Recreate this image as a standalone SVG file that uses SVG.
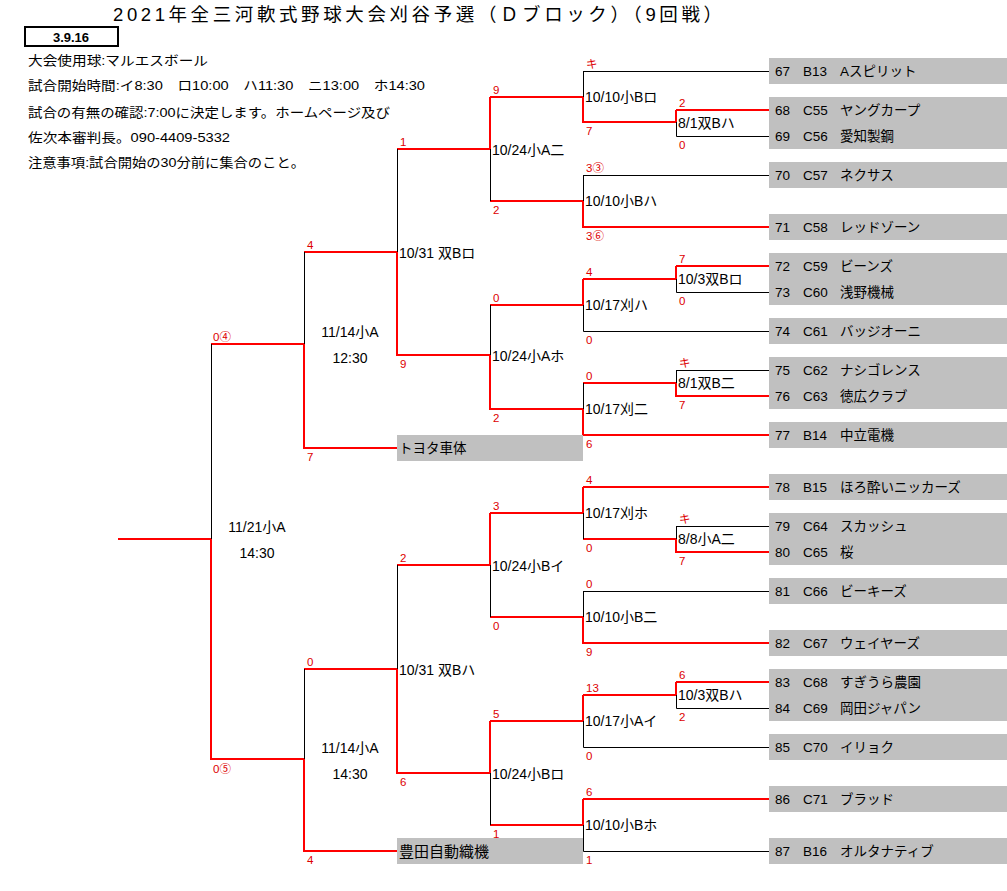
<svg xmlns="http://www.w3.org/2000/svg" width="1007" height="891" viewBox="0 0 1007 891">
<style>
text{font-family:"Liberation Sans","Noto Sans CJK JP",sans-serif;fill:#000}
.t{font-size:13.5px}
.m{font-size:14px}
.s{font-size:11.5px;fill:#dd0000}
.box{fill:#c0c0c0}
.r{stroke:#ff0000;stroke-width:2;fill:none}
.k{stroke:#000;stroke-width:1;fill:none}
.info{font-size:13px}
</style>
<rect width="1007" height="891" fill="#fff"/>
<g id="header">
<text x="113" y="21" style="font-size:18.5px" textLength="609" lengthAdjust="spacing">2021年全三河軟式野球大会刈谷予選（Ｄブロック）（9回戦）</text>
<rect x="25" y="27" width="93" height="19" fill="none" stroke="#000" stroke-width="2"/>
<text x="71" y="42" text-anchor="middle" style="font-size:13px;font-weight:bold">3.9.16</text>
<text class="info" x="28" y="65" textLength="180" lengthAdjust="spacingAndGlyphs">大会使用球:マルエスボール</text>
<text class="info" x="28" y="90" textLength="397" lengthAdjust="spacingAndGlyphs">試合開始時間:イ8:30　ロ10:00　ハ11:30　ニ13:00　ホ14:30</text>
<text class="info" x="28" y="117" textLength="362" lengthAdjust="spacingAndGlyphs">試合の有無の確認:7:00に決定します。ホームページ及び</text>
<text class="info" x="28" y="142" textLength="202" lengthAdjust="spacingAndGlyphs">佐次本審判長。090-4409-5332</text>
<text class="info" x="28" y="167" textLength="277" lengthAdjust="spacingAndGlyphs">注意事項:試合開始の30分前に集合のこと。</text>
</g>
<g id="connectors">
<path class="r" d="M118,539H211V759H304M211,344H304M304,344V448H397M304,252H397M304,759V851H397M304,669H397"/>
<path class="k" d="M211.5,344V539M304.5,252V344M304.5,669V759"/>
<path class="r" d="M397,252V355H490M397,149H490M397,669V773H490M397,565H490"/>
<path class="k" d="M397.5,149V252M397.5,565V669"/>
<path class="r" d="M490,97V149M490,97H583M490,201H583M490,355V409H583M490,305H583M490,513V565M490,513H583M490,617H583M490,721V773M490,721H583M490,825H583"/>
<path class="k" d="M490.5,149V201M490.5,305V355M490.5,565V617M490.5,773V825"/>
<path class="r" d="M583,97V122H676M676,110V122M676,110H769M583,201V227H769M583,279V305M583,279H676M676,266V279M676,266H769M583,409V435H769M583,383H676M676,383V396H769M583,487V513M583,487H769M583,539H676M676,539V552H769M583,617V643H769M583,695V721M583,695H676M676,682V695M676,682H769M583,799V825M583,799H769"/>
<path class="k" d="M583.5,71.5V97M583,71.5H769M676.5,122V136.5H769M583.5,175.5V201M583,175.5H769M583.5,305V331.5H769M676.5,279V292.5H769M583.5,383V409M676.5,370.5V383M676,370.5H769M583.5,513V539M676.5,526.5V539M676,526.5H769M583.5,591.5V617M583,591.5H769M583.5,721V747.5H769M676.5,695V708.5H769M583.5,825V851.5H769"/>
</g>
<g id="final">
<text class="m" x="257" y="532" text-anchor="middle">11/21小A</text>
<text class="m" x="257" y="558" text-anchor="middle">14:30</text>
<text class="s" x="213" y="341">0④</text>
<text class="s" x="213" y="773">0⑤</text>
</g>
<g id="semi-1">
<text class="m" x="350" y="337" text-anchor="middle">11/14小A</text>
<text class="m" x="350" y="363" text-anchor="middle">12:30</text>
<text class="s" x="307" y="249">4</text>
<text class="s" x="307" y="461">7</text>
</g>
<g id="semi-2">
<text class="m" x="350" y="753" text-anchor="middle">11/14小A</text>
<text class="m" x="350" y="779" text-anchor="middle">14:30</text>
<text class="s" x="307" y="666">0</text>
<text class="s" x="307" y="864">4</text>
</g>
<g id="qf-1">
<text class="m" x="399" y="258">10/31 双Bロ</text>
<text class="s" x="400" y="146">1</text>
<text class="s" x="400" y="368">9</text>
</g>
<g id="qf-2">
<text class="m" x="399" y="675">10/31 双Bハ</text>
<text class="s" x="400" y="562">2</text>
<text class="s" x="400" y="786">6</text>
</g>
<g id="team-toyota-shatai">
<rect class="box" x="397" y="435" width="186" height="26"/>
<text class="t" x="399" y="453">トヨタ車体</text>
</g>
<g id="team-toyoda-shokki">
<rect class="box" x="397" y="838" width="186" height="26"/>
<text x="399" y="857" style="font-size:15px">豊田自動織機</text>
</g>
<g id="r2-1">
<text class="m" x="492" y="155">10/24小A二</text>
<text class="s" x="493" y="94">9</text>
<text class="s" x="493" y="214">2</text>
</g>
<g id="r2-2">
<text class="m" x="492" y="361">10/24小Aホ</text>
<text class="s" x="493" y="302">0</text>
<text class="s" x="493" y="422">2</text>
</g>
<g id="r2-3">
<text class="m" x="492" y="571">10/24小Bイ</text>
<text class="s" x="493" y="510">3</text>
<text class="s" x="493" y="630">0</text>
</g>
<g id="r2-4">
<text class="m" x="492" y="779">10/24小Bロ</text>
<text class="s" x="493" y="718">5</text>
<text class="s" x="493" y="838">1</text>
</g>
<g id="r1-1">
<text class="m" x="585" y="102">10/10小Bロ</text>
<text class="s" x="586" y="68">キ</text>
<text class="s" x="586" y="135">7</text>
</g>
<g id="r0-1">
<text class="m" x="678" y="128">8/1双Bハ</text>
<text class="s" x="679" y="107">2</text>
<text class="s" x="679" y="149">0</text>
</g>
<g id="r1-2">
<text class="m" x="585" y="206">10/10小Bハ</text>
<text class="s" x="586" y="172">3③</text>
<text class="s" x="586" y="240">3⑥</text>
</g>
<g id="r1-3">
<text class="m" x="585" y="310">10/17刈ハ</text>
<text class="s" x="586" y="276">4</text>
<text class="s" x="586" y="344">0</text>
</g>
<g id="r0-2">
<text class="m" x="678" y="284">10/3双Bロ</text>
<text class="s" x="679" y="263">7</text>
<text class="s" x="679" y="305">0</text>
</g>
<g id="r1-4">
<text class="m" x="585" y="414">10/17刈二</text>
<text class="s" x="586" y="380">0</text>
<text class="s" x="586" y="448">6</text>
</g>
<g id="r0-3">
<text class="m" x="678" y="388">8/1双B二</text>
<text class="s" x="679" y="367">キ</text>
<text class="s" x="679" y="409">7</text>
</g>
<g id="r1-5">
<text class="m" x="585" y="518">10/17刈ホ</text>
<text class="s" x="586" y="484">4</text>
<text class="s" x="586" y="552">0</text>
</g>
<g id="r0-4">
<text class="m" x="678" y="544">8/8小A二</text>
<text class="s" x="679" y="523">キ</text>
<text class="s" x="679" y="565">7</text>
</g>
<g id="r1-6">
<text class="m" x="585" y="622">10/10小B二</text>
<text class="s" x="586" y="588">0</text>
<text class="s" x="586" y="656">9</text>
</g>
<g id="r1-7">
<text class="m" x="585" y="726">10/17小Aイ</text>
<text class="s" x="586" y="692">13</text>
<text class="s" x="586" y="760">0</text>
</g>
<g id="r0-5">
<text class="m" x="678" y="700">10/3双Bハ</text>
<text class="s" x="679" y="679">6</text>
<text class="s" x="679" y="721">2</text>
</g>
<g id="r1-8">
<text class="m" x="585" y="830">10/10小Bホ</text>
<text class="s" x="586" y="796">6</text>
<text class="s" x="586" y="864">1</text>
</g>
<g id="team-67"><rect class="box" x="769" y="58" width="238" height="26"/><text class="t" x="775" y="76">67</text><text class="t" x="803" y="76">B13</text><text class="t" x="840" y="76">Aスピリット</text></g>
<g id="team-68"><rect class="box" x="769" y="97" width="238" height="26"/><text class="t" x="775" y="115">68</text><text class="t" x="803" y="115">C55</text><text class="t" x="840" y="115">ヤングカープ</text></g>
<g id="team-69"><rect class="box" x="769" y="123" width="238" height="26"/><text class="t" x="775" y="141">69</text><text class="t" x="803" y="141">C56</text><text class="t" x="840" y="141">愛知製鋼</text></g>
<g id="team-70"><rect class="box" x="769" y="162" width="238" height="26"/><text class="t" x="775" y="180">70</text><text class="t" x="803" y="180">C57</text><text class="t" x="840" y="180">ネクサス</text></g>
<g id="team-71"><rect class="box" x="769" y="214" width="238" height="26"/><text class="t" x="775" y="232">71</text><text class="t" x="803" y="232">C58</text><text class="t" x="840" y="232">レッドゾーン</text></g>
<g id="team-72"><rect class="box" x="769" y="253" width="238" height="26"/><text class="t" x="775" y="271">72</text><text class="t" x="803" y="271">C59</text><text class="t" x="840" y="271">ビーンズ</text></g>
<g id="team-73"><rect class="box" x="769" y="279" width="238" height="26"/><text class="t" x="775" y="297">73</text><text class="t" x="803" y="297">C60</text><text class="t" x="840" y="297">浅野機械</text></g>
<g id="team-74"><rect class="box" x="769" y="318" width="238" height="26"/><text class="t" x="775" y="336">74</text><text class="t" x="803" y="336">C61</text><text class="t" x="840" y="336">バッジオーニ</text></g>
<g id="team-75"><rect class="box" x="769" y="357" width="238" height="26"/><text class="t" x="775" y="375">75</text><text class="t" x="803" y="375">C62</text><text class="t" x="840" y="375">ナシゴレンス</text></g>
<g id="team-76"><rect class="box" x="769" y="383" width="238" height="26"/><text class="t" x="775" y="401">76</text><text class="t" x="803" y="401">C63</text><text class="t" x="840" y="401">徳広クラブ</text></g>
<g id="team-77"><rect class="box" x="769" y="422" width="238" height="26"/><text class="t" x="775" y="440">77</text><text class="t" x="803" y="440">B14</text><text class="t" x="840" y="440">中立電機</text></g>
<g id="team-78"><rect class="box" x="769" y="474" width="238" height="26"/><text class="t" x="775" y="492">78</text><text class="t" x="803" y="492">B15</text><text class="t" x="840" y="492">ほろ酔いニッカーズ</text></g>
<g id="team-79"><rect class="box" x="769" y="513" width="238" height="26"/><text class="t" x="775" y="531">79</text><text class="t" x="803" y="531">C64</text><text class="t" x="840" y="531">スカッシュ</text></g>
<g id="team-80"><rect class="box" x="769" y="539" width="238" height="26"/><text class="t" x="775" y="557">80</text><text class="t" x="803" y="557">C65</text><text class="t" x="840" y="557">桜</text></g>
<g id="team-81"><rect class="box" x="769" y="578" width="238" height="26"/><text class="t" x="775" y="596">81</text><text class="t" x="803" y="596">C66</text><text class="t" x="840" y="596">ビーキーズ</text></g>
<g id="team-82"><rect class="box" x="769" y="630" width="238" height="26"/><text class="t" x="775" y="648">82</text><text class="t" x="803" y="648">C67</text><text class="t" x="840" y="648">ウェイヤーズ</text></g>
<g id="team-83"><rect class="box" x="769" y="669" width="238" height="26"/><text class="t" x="775" y="687">83</text><text class="t" x="803" y="687">C68</text><text class="t" x="840" y="687">すぎうら農園</text></g>
<g id="team-84"><rect class="box" x="769" y="695" width="238" height="26"/><text class="t" x="775" y="713">84</text><text class="t" x="803" y="713">C69</text><text class="t" x="840" y="713">岡田ジャパン</text></g>
<g id="team-85"><rect class="box" x="769" y="734" width="238" height="26"/><text class="t" x="775" y="752">85</text><text class="t" x="803" y="752">C70</text><text class="t" x="840" y="752">イリョク</text></g>
<g id="team-86"><rect class="box" x="769" y="786" width="238" height="26"/><text class="t" x="775" y="804">86</text><text class="t" x="803" y="804">C71</text><text class="t" x="840" y="804">ブラッド</text></g>
<g id="team-87"><rect class="box" x="769" y="838" width="238" height="26"/><text class="t" x="775" y="856">87</text><text class="t" x="803" y="856">B16</text><text class="t" x="840" y="856">オルタナティブ</text></g>
</svg>
